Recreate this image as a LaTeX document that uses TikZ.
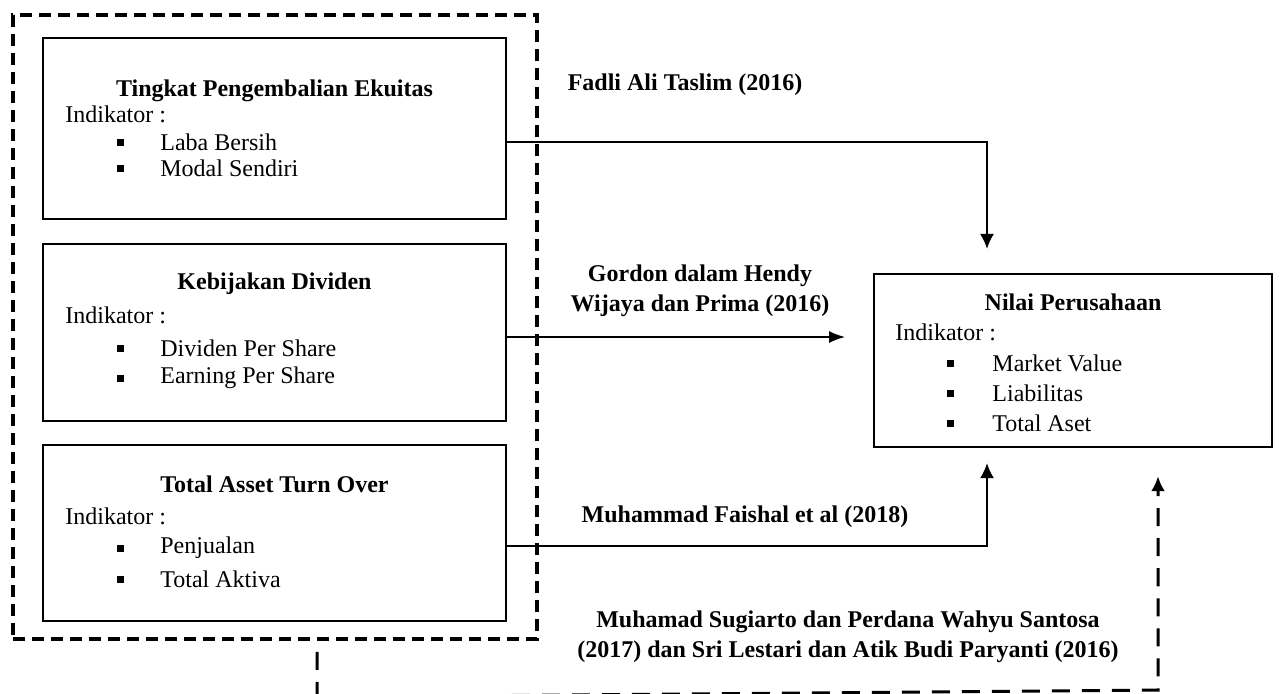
\documentclass[tikz,border=0pt]{standalone}
\usepackage{fontspec}
\setmainfont{Liberation Serif}
\usetikzlibrary{arrows.meta}

\begin{document}
\begin{tikzpicture}[x=0.5pt,y=-0.5pt,>={Latex[length=7.5pt,width=7pt]},font=\fontsize{12}{15}\selectfont]
    \tikzstyle{box}=[draw, line width=1.2pt, rectangle, inner sep=0pt, minimum width=231.5pt]
    \tikzstyle{luar}=[draw, line width=1.8pt, dash pattern=on 6pt off 3.5pt, rectangle, inner sep=0pt]
    \tikzstyle{judul}=[font=\fontsize{12}{15}\selectfont\bfseries, inner sep=0pt]
    \tikzstyle{teks}=[anchor=west, inner sep=0pt]
    \tikzstyle{titik}=[fill, rectangle, minimum size=3.5pt, inner sep=0pt]
    \tikzstyle{sumber}=[font=\fontsize{12}{15}\selectfont\bfseries, align=center, inner sep=0pt]
    \tikzstyle{garis}=[line width=0.7pt]
    \tikzstyle{putus}=[line width=1.5pt, dash pattern=on 9pt off 6pt]

    \useasboundingbox (0,0) rectangle (1283,693);

    \node[luar, minimum width=262pt, minimum height=312pt] (grup) at (275,327) {};
    \node[box, minimum height=90.5pt] (roe)  at (274.5,128.5) {};
    \node[box, minimum height=88.5pt] (dpr)  at (274.5,332.5) {};
    \node[box, minimum height=88pt]   (tato) at (274.5,533)   {};
    \node[box, minimum width=199pt, minimum height=86.5pt] (nilai) at (1073,360.5) {};

    \node[judul] (roe-j)   at (274.5,91) {Tingkat Pengembalian Ekuitas};
    \node[teks]  (roe-i)   at (65,114)   {Indikator :};
    \node[judul] (dpr-j)   at (274.5,284) {Kebijakan Dividen};
    \node[teks]  (dpr-i)   at (65,315)   {Indikator :};
    \node[judul] (tato-j)  at (274.5,484) {Total Asset Turn Over};
    \node[teks]  (tato-i)  at (65,516)   {Indikator :};
    \node[judul] (nilai-j) at (1073,302) {Nilai Perusahaan};
    \node[teks]  (nilai-i) at (895,332)  {Indikator :};

    \foreach \y/\isi/\nama in {142/Laba Bersih/roe1, 168/Modal Sendiri/roe2,
                               348/Dividen Per Share/dpr1, 378/Earning Per Share/dpr2,
                               548/Penjualan/tato1, 579/Total Aktiva/tato2} {
        \node[titik] (\nama-t) at (120,\y) {};
        \node[teks]  (\nama)   at (160,\y) {\isi};
    }
    \foreach \y/\isi/\nama in {363/Market Value/nilai1, 393/Liabilitas/nilai2, 423/Total Aset/nilai3} {
        \node[titik] (\nama-t) at (950,\y) {};
        \node[teks]  (\nama)   at (992,\y) {\isi};
    }

    \node[sumber] (s1) at (685,85)  {Fadli Ali Taslim (2016)};
    \node[sumber] (s2) at (700,291) {Gordon dalam Hendy\\Wijaya dan Prima (2016)};
    \node[sumber] (s3) at (745,517) {Muhammad Faishal et al (2018)};
    \node[sumber] (s4) at (848,637) {Muhamad Sugiarto dan Perdana Wahyu Santosa\\(2017) dan Sri Lestari dan Atik Budi Paryanti (2016)};

    \coordinate (c1) at (987,142);
    \coordinate (c2) at (845,337);
    \coordinate (c3) at (987,546);
    \coordinate (d1) at (317,697);
    \coordinate (d2) at (1158,690);

    \draw[garis,->,shorten >=12pt] (roe.east |- c1) -| (nilai.north -| c1);
    \draw[garis,-{Latex[length=8pt,width=6pt]}] (dpr.east |- c2) -- (c2);
    \draw[garis,->,shorten >=7.5pt] (tato.east |- c3) -| (nilai.south -| c3);
    % ujung bawah terpotong tepi gambar
    \draw[putus,->,shorten <=5.5pt,shorten >=14pt] (grup.south -| d1) -- (d1) -- (d2) -- (nilai.south -| d2);
\end{tikzpicture}
\end{document}
